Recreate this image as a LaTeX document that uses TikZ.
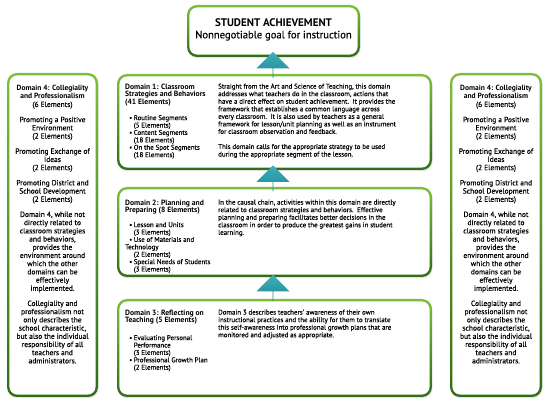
\documentclass[tikz,border=0pt]{standalone}
\usepackage{fontspec}
\setmainfont{PT Sans}
\newfontfamily\medfont{PT Sans}[FakeBold=0.35]
\usetikzlibrary{shapes.arrows,shadows,fit}
\definecolor{grnlt}{HTML}{7DBE3A}
\definecolor{grndk}{HTML}{2F6E17}
\definecolor{tealdk}{HTML}{1F8793}
\definecolor{teallt}{HTML}{3FAFBA}
\tikzset{
  panel/.style={rounded corners=10pt, inner sep=0pt, top color=grnlt, bottom color=grndk,
    drop shadow={opacity=.22, shadow xshift=.6pt, shadow yshift=-1.2pt},
    path picture={\fill[white, rounded corners=8pt]
      ([shift={(2.4pt,-2.4pt)}]path picture bounding box.north west) rectangle
      ([shift={(-2.4pt,2.4pt)}]path picture bounding box.south east);}},
  uparrow/.style={single arrow, shape border rotate=90, minimum height=26pt, minimum width=33pt,
    single arrow head extend=7.5pt, inner sep=0pt, top color=teallt, bottom color=tealdk},
  headtxt/.style={font=\bfseries\fontsize{7.6}{7.6}\selectfont, align=left, inner sep=0pt, anchor=north west},
  listtxt/.style={font=\medfont\fontsize{6.9}{7.4}\selectfont, align=left, inner sep=0pt, anchor=north west},
  bodytxt/.style={font=\medfont\fontsize{6.9}{7.55}\selectfont, align=left, inner sep=0pt, anchor=north west},
  sidetxt/.style={font=\medfont\fontsize{7.5}{8.2}\selectfont, align=center, inner sep=0pt, anchor=north},
}
\newcommand\itm{\makebox[4.6pt][l]{\textbullet}}
\newcommand\ind{\hspace*{4.6pt}}
\newcommand\sidecol{%
  {\normalfont\bfseries Domain 4: Collegiality}\\ {\normalfont\bfseries and Professionalism}\\ (6 Elements)\\[7pt]
  Promoting a Positive\\ Environment\\ (2 Elements)\\[7pt]
  Promoting Exchange of\\ Ideas\\ (2 Elements)\\[7pt]
  Promoting District and\\ School Development\\ (2 Elements)\\[7pt]
  Domain 4, while not\\ directly related to\\ classroom strategies\\ and behaviors,\\ provides the\\
  environment around\\ which the other\\ domains can be\\ effectively\\ implemented.\\[7pt]
  Collegiality and\\ professionalism not\\ only describes the\\ school characteristic,\\
  but also the individual\\ responsibility of all\\ teachers and\\ administrators.}
\begin{document}
\begin{tikzpicture}[x=1pt, y=-1pt]
\useasboundingbox (0,0) rectangle (550,406);
% panels
\node[panel, fit={(187,5) (360,57)}] (goal) {};
\node[panel, fit={(7,73) (98,397)}] (left) {};
\node[panel, fit={(450,73) (542,397)}] (right) {};
\node[panel, fit={(117,74) (432,170)}] (dom1) {};
\node[panel, fit={(117,187) (432,277)}] (dom2) {};
\node[panel, fit={(117,299) (432,397)}] (dom3) {};
% arrows
\node[uparrow] (up1) at (273,65) {};
\node[uparrow] (up2) at (273,178.5) {};
\node[uparrow] (up3) at (273,288) {};
% goal
\node[align=center, inner sep=0pt] (goaltxt) at (273.5,29.5)
  {{\bfseries\fontsize{11}{10.5}\selectfont STUDENT ACHIEVEMENT}\\
   {\medfont\fontsize{10.6}{10.5}\selectfont Nonnegotiable goal for instruction}};
% domain 4 columns
\node[sidetxt] (lefttxt) at (52.5,85) {\sidecol};
\node[sidetxt] (righttxt) at (496,85) {\sidecol};
% domain 1
\node[headtxt] (d1h) at (125,83.5) {Domain 1: Classroom\\ Strategies and Behaviors\\ (41 Elements)};
\node[listtxt] (d1l) at (129,115) {\itm Routine Segments\\ \ind(5 Elements)\\ \itm Content Segments\\
  \ind(18 Elements)\\ \itm On the Spot Segments\\ \ind(18 Elements)};
\node[bodytxt] (d1b) at (218,83.5) {Straight from the Art and Science of Teaching, this domain\\
  addresses what teachers do in the classroom, actions that\\
  have a direct effect on student achievement.\ \ It provides the\\
  framework that establishes a common language across\\
  every classroom.\ \ It is also used by teachers as a general\\
  framework for lesson/unit planning as well as an instrument\\
  for classroom observation and feedback.\\[7.5pt]
  This domain calls for the appropriate strategy to be used\\
  during the appropriate segment of the lesson.};
% domain 2
\node[headtxt] (d2h) at (125,199.5) {Domain 2: Planning and\\ Preparing (8 Elements)};
\node[listtxt] (d2l) at (129,222) {\itm Lesson and Units\\ \ind(3 Elements)\\ \itm Use of Materials and\\
  \hspace*{-4pt}Technology\\ \ind(2 Elements)\\ \itm Special Needs of Students\\ \ind(3 Elements)};
\node[bodytxt] (d2b) at (218,199.5) {In the causal chain, activities within this domain are directly\\
  related to classroom strategies and behaviors.\ \ Effective\\
  planning and preparing facilitates better decisions in the\\
  classroom in order to produce the greatest gains in student\\
  learning.};
% domain 3
\node[headtxt] (d3h) at (125,309.5) {Domain 3: Reflecting on\\ Teaching (5 Elements)};
\node[listtxt] (d3l) at (129,335) {\itm Evaluating Personal\\ \ind Performance\\ \ind(3 Elements)\\
  \itm Professional Growth Plan\\ \ind(2 Elements)};
\node[bodytxt] (d3b) at (218,309.5) {Domain 3 describes teachers' awareness of their own\\
  instructional practices and the ability for them to translate\\
  this self-awareness into professional growth plans that are\\
  monitored and adjusted as appropriate.};
\end{tikzpicture}
\end{document}
